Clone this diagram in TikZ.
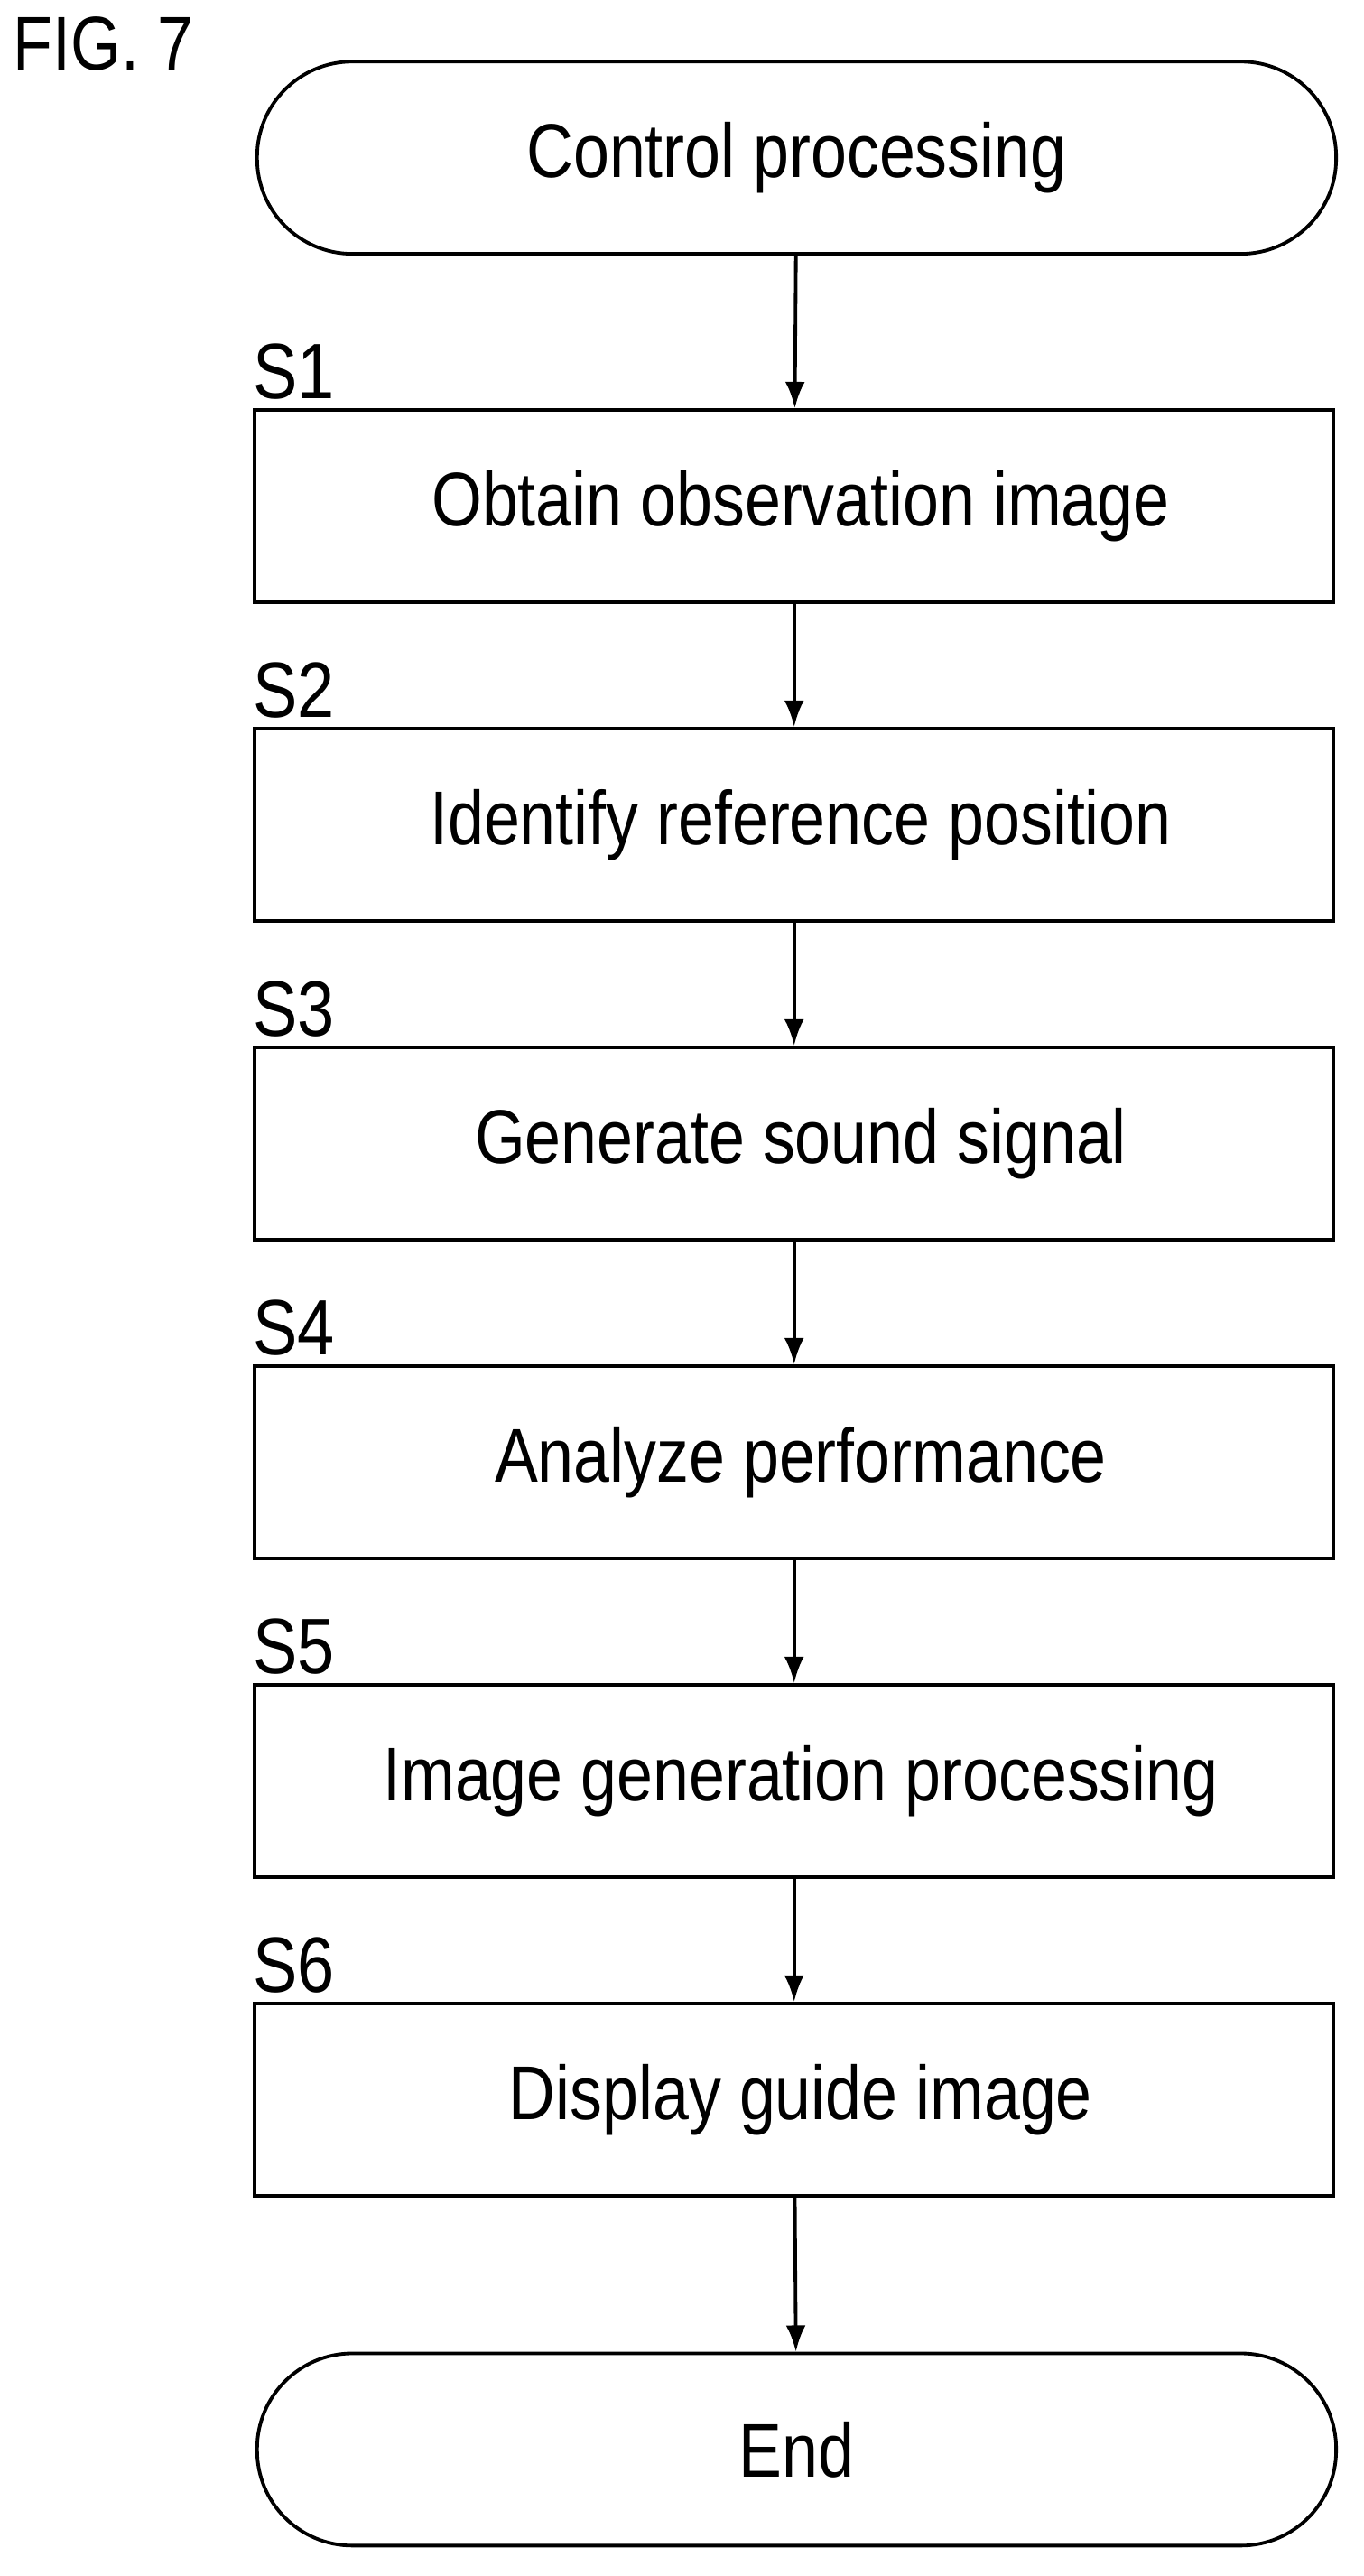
\documentclass[tikz,border=0pt]{standalone}
\usepackage{fontspec}
\usetikzlibrary{arrows.meta}
\setmainfont{Liberation Sans}[FakeStretch=0.85]
\begin{document}
\begin{tikzpicture}[x=0.05cm,y=-0.05cm,
  box/.style={draw,line width=3pt,minimum width=32.85cm,minimum height=5.85cm,font=\fontsize{66}{74}\selectfont,inner sep=0pt},
  term/.style={box,rounded corners=2.9cm},
  lab/.style={anchor=south west,font=\fontsize{68}{74}\selectfont,inner sep=0pt},
  arr/.style={line width=3pt,-{Latex[length=0.8cm,width=0.6cm]}}]
\useasboundingbox (0,0) rectangle (830,1568);
\node[anchor=north west,font=\fontsize{66}{74}\selectfont,inner sep=0pt] (fig) at (8,10) {FIG. 7};
\node[term] (start) at (485,96) {Control processing};
\node[box] (s1) at (483.5,308) {\hspace{0.4cm}Obtain observation image};
\node[box] (s2) at (483.5,502) {\hspace{0.4cm}Identify reference position};
\node[box] (s3) at (483.5,696) {\hspace{0.4cm}Generate sound signal};
\node[box] (s4) at (483.5,890) {\hspace{0.4cm}Analyze performance};
\node[box] (s5) at (483.5,1084) {\hspace{0.4cm}Image generation processing};
\node[box] (s6) at (483.5,1278) {\hspace{0.4cm}Display guide image};
\node[term] (end) at (485,1491) {End};
\foreach \n/\t in {s1/S1,s2/S2,s3/S3,s4/S4,s5/S5,s6/S6}
  \node[lab] at ([yshift=0.25cm]\n.north west) {\t};
\draw[arr] (start) -- (s1);
\draw[arr] (s1) -- (s2);
\draw[arr] (s2) -- (s3);
\draw[arr] (s3) -- (s4);
\draw[arr] (s4) -- (s5);
\draw[arr] (s5) -- (s6);
\draw[arr] (s6) -- (end);
\end{tikzpicture}
\end{document}
